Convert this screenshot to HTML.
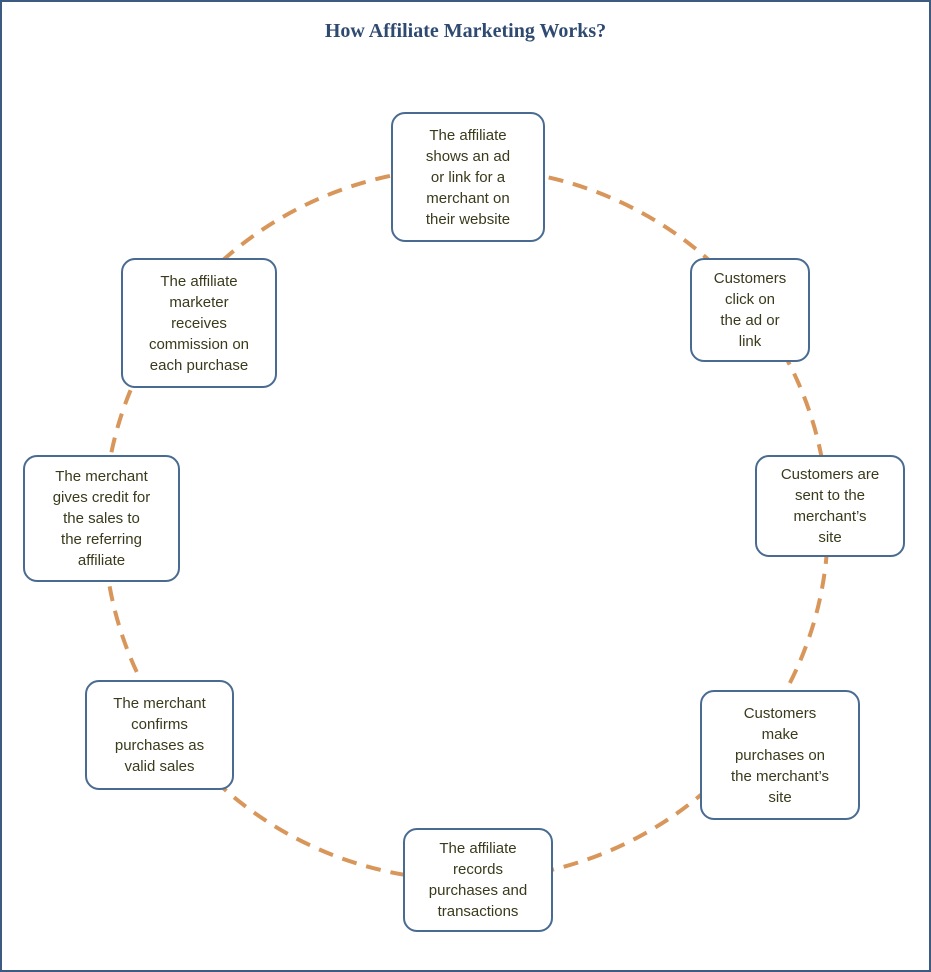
<!DOCTYPE html>
<html><head><style>
body{margin:0;width:931px;height:972px;background:#fff;position:relative;overflow:hidden;font-family:"Liberation Sans",sans-serif}
.frame{position:absolute;left:0;top:0;width:927px;height:968px;border:2px solid #3d5a80}
.t{position:absolute;left:0;width:931px;top:20px;text-align:center;font-family:"Liberation Serif",serif;font-weight:bold;font-size:20px;color:#2f4a70}
.b{position:absolute;box-sizing:border-box;border:2px solid #4a6b91;border-radius:14px;background:#fff;display:flex;align-items:center;justify-content:center;text-align:center;font-size:15px;line-height:21px;color:#3a3a1c}
</style></head><body>
<div class="frame"></div>
<div class="t">How Affiliate Marketing Works?</div>
<svg width="931" height="972" style="position:absolute;left:0;top:0">
<ellipse cx="466" cy="524" rx="362" ry="356" fill="none" stroke="#d8965a" stroke-width="4" stroke-dasharray="15 10"/>
</svg>
<div class="b" style="left:391px;top:112px;width:154px;height:130px">The affiliate<br>shows an ad<br>or link for a<br>merchant on<br>their website</div>
<div class="b" style="left:690px;top:258px;width:120px;height:104px">Customers<br>click on<br>the ad or<br>link</div>
<div class="b" style="left:755px;top:455px;width:150px;height:102px">Customers are<br>sent to the<br>merchant’s<br>site</div>
<div class="b" style="left:700px;top:690px;width:160px;height:130px">Customers<br>make<br>purchases on<br>the merchant’s<br>site</div>
<div class="b" style="left:403px;top:828px;width:150px;height:104px">The affiliate<br>records<br>purchases and<br>transactions</div>
<div class="b" style="left:85px;top:680px;width:149px;height:110px">The merchant<br>confirms<br>purchases as<br>valid sales</div>
<div class="b" style="left:23px;top:455px;width:157px;height:127px">The merchant<br>gives credit for<br>the sales to<br>the referring<br>affiliate</div>
<div class="b" style="left:121px;top:258px;width:156px;height:130px">The affiliate<br>marketer<br>receives<br>commission on<br>each purchase</div>
</body></html>
